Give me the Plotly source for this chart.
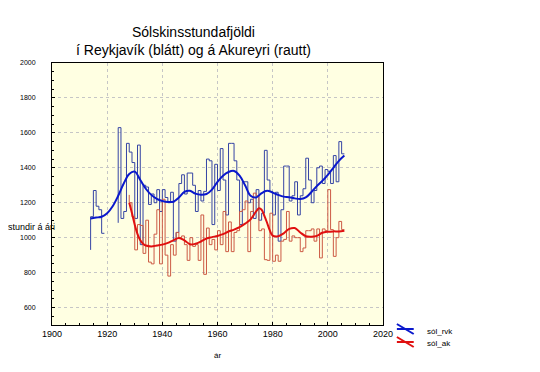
import plotly.graph_objects as go

# ---------------- data ----------------
rvk_years = list(range(1914, 2007))
rvk_hours = [930, 1120, 1270, 1180, 1160, 1025, None, None, None, None,
             1085, 1630, 1110, 1150, 1540, 1490, 1430, 1110, 1530, 960,
             1300, 1290, 1190, 1250, 1200, 1275, 1150, 1275, 1230, 1200,
             1260, 980, 1030, 1310, 1360, 1250, 1370, 1370, 1300, 1150,
             1270, 1210, 1265, 1450, 1440, 1075, 1420, 1270, 1510, 1330,
             1130, 1540, 1540, 1440, 1330, 1075, 1320, 1320, 1200, 1220,
             1110, 1275, 1100, 1140, 1500, 1330, 1265, 1130, 1260, 980,
             1160, 1410, 1410, 1210, 1240, 1320, 1130, 1240, 1280, 1455,
             1330, 1200, 1270, 1400, 1410, 1310, 1390, 1380, 1310, 1470,
             1320, 1550, 1480]

ak_years = list(range(1928, 2007))
ak_hours = [1245, 1200, 1120, 930, 1075, 1070, 910, 1100, 860, 850,
            1020, 1160, 850, 1220, 900, 780, 960, 900, 1030, 1000,
            1010, 960, 870, 1000, 950, 960, 870, 1130, 790, 1055,
            960, 990, 930, 1040, 960, 1150, 920, 1090, 920, 1030,
            1040, 1150, 1160, 1210, 920, 1150, 1255, 1240, 1040, 1050,
            874, 870, 1140, 865, 900, 865, 980, 990, 1150, 980,
            1010, 1000, 1000, 920, 941, 1040, 1040, 1050, 980, 1050,
            884, 1050, 1040, 1275, 1046, 893, 1000, 1093, 1046]

rvk_smooth_years = [1914, 1916, 1918, 1920, 1922, 1924, 1926, 1928, 1930, 1932,
                    1934, 1936, 1938, 1940, 1942, 1944, 1946, 1948, 1950, 1952,
                    1954, 1956, 1958, 1960, 1962, 1964, 1966, 1968, 1970, 1972,
                    1974, 1976, 1978, 1980, 1982, 1984, 1986, 1988, 1990, 1992,
                    1994, 1996, 1998, 2000, 2002, 2004, 2006]
rvk_smooth = [1110, 1115, 1120, 1140, 1180, 1240, 1310, 1365, 1378, 1330,
              1280, 1245, 1222, 1210, 1204, 1206, 1230, 1262, 1268, 1252,
              1246, 1250, 1275, 1320, 1355, 1376, 1382, 1355, 1300, 1240,
              1230, 1255, 1268, 1258, 1245, 1235, 1232, 1225, 1221, 1230,
              1260, 1295, 1325, 1360, 1400, 1440, 1470]

ak_smooth_years = [1928, 1929, 1930, 1931, 1932, 1933, 1934, 1936, 1938, 1940,
                   1942, 1944, 1946, 1948, 1950, 1952, 1954, 1956, 1958, 1960,
                   1962, 1964, 1966, 1968, 1970, 1972, 1974, 1975, 1976, 1977,
                   1978, 1979, 1980, 1982, 1984, 1986, 1988, 1990, 1992, 1994,
                   1996, 1998, 2000, 2002, 2004, 2006]
ak_smooth = [1200, 1140, 1074, 1020, 985, 965, 955, 950, 955, 960,
             970, 985, 998, 985, 962, 965, 978, 995, 1003, 1010,
             1020, 1035, 1046, 1060, 1080, 1105, 1150, 1168, 1160, 1125,
             1084, 1040, 1012, 1008, 1025, 1050, 1055, 1030, 1008, 1005,
             1010, 1028, 1034, 1036, 1036, 1040]

x_ticks = [1900, 1920, 1940, 1960, 1980, 2000, 2020]
y_ticks = [600, 800, 1000, 1200, 1400, 1600, 1800, 2000]
legend_names = ["sól_rvk", "sól_ak"]

# ---------------- figure ----------------
FONT = "Arial, Liberation Sans, sans-serif"
BLUE_STEP, RED_STEP = "#3544A4", "#CC5A44"
BLUE, RED = "#0A18CC", "#E01010"
fig = go.Figure()

fig.add_trace(go.Scatter(x=rvk_years, y=rvk_hours, mode="lines", name=legend_names[0],
                         line=dict(color=BLUE_STEP, width=1, shape="vh"),
                         connectgaps=False, showlegend=False))
fig.add_trace(go.Scatter(x=ak_years, y=ak_hours, mode="lines", name=legend_names[1],
                         line=dict(color=RED_STEP, width=1, shape="vh"),
                         showlegend=False))
fig.add_trace(go.Scatter(x=rvk_smooth_years, y=rvk_smooth, mode="lines",
                         name=legend_names[0] + " (smoothed)",
                         line=dict(color=BLUE, width=2, shape="spline"),
                         showlegend=False))
fig.add_trace(go.Scatter(x=ak_smooth_years, y=ak_smooth, mode="lines",
                         name=legend_names[1] + " (smoothed)",
                         line=dict(color=RED, width=2, shape="spline"),
                         showlegend=False))

axis_common = dict(showline=True, linecolor="black", linewidth=1, mirror=True,
                   ticks="inside", ticklen=3, tickcolor="black",
                   showgrid=True, gridcolor="#C6C6C6", griddash="dot", gridwidth=1,
                   zeroline=False)

fig.update_xaxes(range=[1900, 2020], tickvals=x_ticks,
                 tickfont=dict(size=9, family=FONT, color="black"),
                 minor=dict(dtick=5, ticks="inside", ticklen=2, tickcolor="black", showgrid=False),
                 **axis_common)
fig.update_yaxes(range=[500, 2000], tickvals=y_ticks,
                 tickfont=dict(size=7, family=FONT, color="black"),
                 ticklabelstandoff=14,
                 minor=dict(dtick=50, ticks="inside", ticklen=2, tickcolor="black", showgrid=False),
                 **axis_common)


# helpers to place screen-pixel positions (plot area: x 49..383, y 63..325)
def px(x):
    return (x - 49) / 334.0


def py(y):
    return (325 - y) / 262.0


shapes = []
for (yd0, yd1, yh, col) in [(324, 334, 329, BLUE), (337, 347, 342, RED)]:
    shapes.append(dict(type="line", xref="paper", yref="paper",
                       x0=px(397), x1=px(414), y0=py(yd0), y1=py(yd1),
                       line=dict(color=col, width=2)))
    shapes.append(dict(type="line", xref="paper", yref="paper",
                       x0=px(397), x1=px(414), y0=py(yh), y1=py(yh),
                       line=dict(color=col, width=2)))

annotations = [
    dict(text="Sólskinsstundafjöldi<br>í Reykjavík (blátt) og á Akureyri (rautt)",
         x=px(192), y=py(41), xref="paper", yref="paper", showarrow=False,
         xanchor="center", yanchor="middle",
         font=dict(size=14, family=FONT), align="center"),
    dict(text="stundir á ári", x=px(28), y=py(227), xref="paper", yref="paper",
         xanchor="center", yanchor="middle",
         showarrow=False, font=dict(size=9, family=FONT)),
    dict(text="ár", x=px(216), y=py(355), xref="paper", yref="paper",
         xanchor="center", yanchor="middle",
         showarrow=False, font=dict(size=8, family=FONT)),
    dict(text=legend_names[0], x=px(425), y=py(331), xref="paper", yref="paper",
         xanchor="left", yanchor="middle",
         showarrow=False, font=dict(size=8, family=FONT)),
    dict(text=legend_names[1], x=px(425), y=py(343), xref="paper", yref="paper",
         xanchor="left", yanchor="middle",
         showarrow=False, font=dict(size=8, family=FONT)),
]

# the page body adds an 8px offset, so margins are reduced by 8px on left/top
fig.update_layout(
    width=540, height=372,
    margin=dict(l=41, r=165, t=55, b=55),
    paper_bgcolor="white", plot_bgcolor="#FFFFE2",
    font=dict(family=FONT, color="black"),
    showlegend=False,
    shapes=shapes,
    annotations=annotations,
)

fig.write_html("out.html")
